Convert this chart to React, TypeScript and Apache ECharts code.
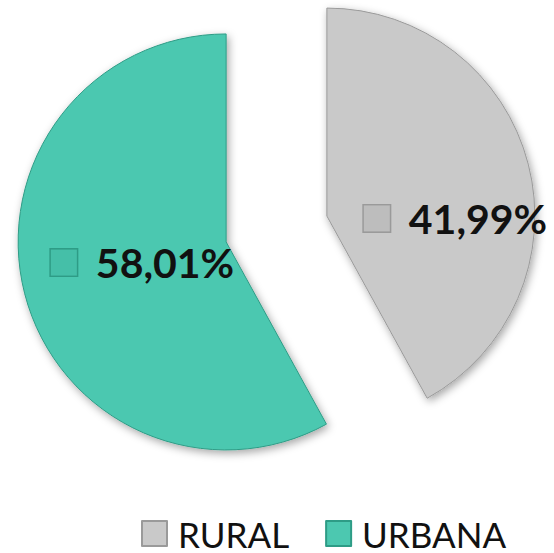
import React, { useEffect, useRef } from "react";
import * as echarts from "echarts";

const categories = ["RURAL", "URBANA"];
const values = [41.99, 58.01];
const colors = ["#c9c9c9", "#4cc8b0"];
const edgeColors = ["#9a9a9a", "#2e9c86"];
const iconColors = ["#bdbdbd", "#45bfa8"];

const fmt = (v: number) => v.toFixed(2).replace(".", ",") + "%";

export default function App() {
  const ref = useRef<HTMLDivElement>(null);
  useEffect(() => {
    const chart = echarts.init(ref.current!, null, { renderer: "svg" });
    const data = categories.map((name, i) => ({
      name,
      value: values[i],
      selected: true,
      itemStyle: {
        color: colors[i],
        borderColor: edgeColors[i],
        borderWidth: 1,
      },
      select: {
        itemStyle: {
          color: colors[i],
          borderColor: edgeColors[i],
          borderWidth: 1,
        },
      },
    }));
    chart.setOption({
      animation: false,
      backgroundColor: "#ffffff",
      legend: {
        data: categories,
        top: 511,
        left: 136,
        padding: 5,
        itemWidth: 25,
        itemHeight: 25,
        itemGap: 36,
        icon: "rect",
        textStyle: {
          fontFamily: "Lato",
          fontSize: 35,
          lineHeight: 35,
          color: "#111111",
          padding: [0, 0, 0, 6],
        },
        selectedMode: false,
      },
      series: [
        {
          type: "pie",
          center: [276.5, 229],
          radius: 208,
          startAngle: 90,
          clockwise: true,
          selectedMode: "multiple",
          selectedOffset: 52,
          emphasis: { disabled: true },
          avoidLabelOverlap: false,
          itemStyle: {
            shadowBlur: 8,
            shadowColor: "rgba(0,0,0,0.35)",
            shadowOffsetX: 2,
            shadowOffsetY: 3,
          },
          label: {
            show: true,
            position: "inside",
            formatter: (p: any) =>
              `{icon${p.dataIndex}|}{gap|}{val|${fmt(p.value)}}`,
            rich: {
              icon0: {
                width: 26,
                height: 26,
                backgroundColor: iconColors[0],
                borderColor: edgeColors[0],
                borderWidth: 1.5,
              },
              icon1: {
                width: 26,
                height: 26,
                backgroundColor: iconColors[1],
                borderColor: edgeColors[1],
                borderWidth: 1.5,
              },
              gap: { width: 19 },
              val: {
                fontFamily: "Lato",
                fontWeight: "bold",
                fontSize: 41,
                color: "#111111",
              },
            },
          },
          labelLine: { show: false },
          labelLayout: (p: any) =>
            p.dataIndex === 0 ? { dx: 25, dy: 29 } : { dx: 20, dy: -6 },
          data,
        },
      ],
    });
    return () => chart.dispose();
  }, []);
  return (
    <div
      ref={ref}
      style={{ position: "fixed", left: 0, top: 0, width: 554, height: 553 }}
    />
  );
}
